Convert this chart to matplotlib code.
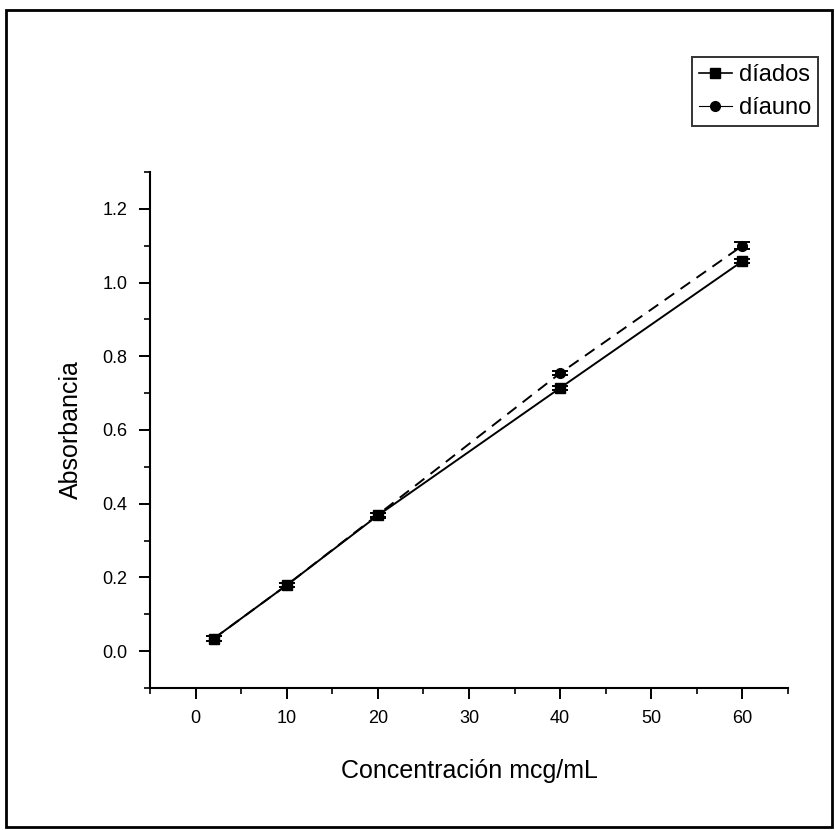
import numpy as np
import matplotlib.pyplot as plt
from matplotlib.ticker import MultipleLocator
from matplotlib.patches import Rectangle
from matplotlib.lines import Line2D

plt.rcParams['font.family'] = ['Liberation Sans Narrow', 'Liberation Sans', 'DejaVu Sans']

# concentraciones y absorbancias medidas
conc = [2, 10, 20, 40, 60]
abs_diados = [0.034, 0.179, 0.368, 0.714, 1.058]
abs_diauno = [0.034, 0.179, 0.370, 0.754, 1.100]
err_diados = [0.006, 0.006, 0.006, 0.006, 0.005]
err_diauno = [0.006, 0.006, 0.006, 0.006, 0.009]

fig = plt.figure(figsize=(8.35, 8.30), dpi=100)
ax = fig.add_axes([0.1796, 0.1711, 0.7641, 0.6217])

ax.errorbar(conc, abs_diados, yerr=err_diados, color='black', lw=1.4,
            ls='-', marker='s', ms=7, capsize=6, elinewidth=1.2, capthick=1.4)
ax.errorbar(conc, abs_diauno, yerr=err_diauno, color='black', lw=1.4,
            ls=(0, (6, 4)), marker='o', ms=7, capsize=6, elinewidth=1.2,
            capthick=1.4)

ax.set_xlim(-5, 65)
ax.set_ylim(-0.1, 1.3)
ax.xaxis.set_minor_locator(MultipleLocator(5))
ax.yaxis.set_minor_locator(MultipleLocator(0.1))
ax.set_yticks(np.arange(0, 1.21, 0.2))
ax.set_xticks(np.arange(0, 61, 10))
ax.yaxis.set_major_formatter(plt.FormatStrFormatter('%.1f'))

ax.spines['top'].set_visible(False)
ax.spines['right'].set_visible(False)
ax.spines['left'].set_linewidth(1.5)
ax.spines['bottom'].set_linewidth(1.5)
ax.tick_params(which='major', direction='out', length=8, width=1.4, labelsize=13, pad=8)
ax.tick_params(which='minor', direction='out', length=4, width=1.2)

ax.set_xlabel('Concentración mcg/mL', fontsize=18, labelpad=23)
ax.set_ylabel('Absorbancia', fontsize=18, labelpad=14, family=['Liberation Sans', 'DejaVu Sans'])

# leyenda con linea y marcador, sin barras de error
h1 = Line2D([], [], color='black', lw=1.2, ls='-', marker='s', ms=7)
h2 = Line2D([], [], color='black', lw=0.8, ls='-', marker='o', ms=7)
leg = fig.legend(handles=[h1, h2], labels=['díados', 'díauno'], loc='upper right',
                 bbox_to_anchor=(0.98, 0.931), borderaxespad=0,
                 fontsize=17, frameon=True, fancybox=False, edgecolor='black',
                 handlelength=1.4, handletextpad=0.3, borderpad=0.3, labelspacing=0.45)
leg.get_frame().set_linewidth(1.4)

# marco exterior de la figura
fig.patches.append(Rectangle((0.007, 0.004), 0.989, 0.984, transform=fig.transFigure,
                             fill=False, edgecolor='black', lw=2))

fig.savefig('out.png', dpi=100)
